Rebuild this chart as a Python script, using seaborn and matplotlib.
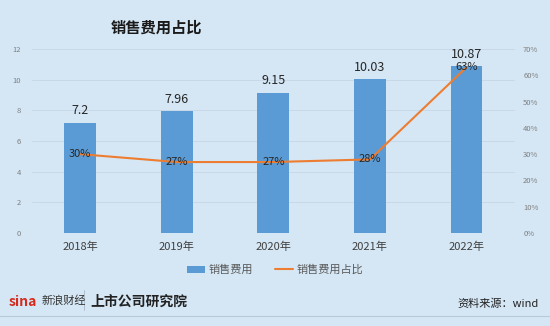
import matplotlib
matplotlib.use("Agg")
import matplotlib.pyplot as plt
import seaborn as sns
import pandas as pd
from matplotlib.patches import Patch
from matplotlib.lines import Line2D

years = ["2018年", "2019年", "2020年", "2021年", "2022年"]
sales_expense = [7.2, 7.96, 9.15, 10.03, 10.87]
ratio = [0.30, 0.27, 0.27, 0.28, 0.63]
ratio_labels = ["30%", "27%", "27%", "28%", "63%"]
left_ticks = [0, 2, 4, 6, 8, 10, 12]
right_ticks = [0, 0.1, 0.2, 0.3, 0.4, 0.5, 0.6, 0.7]

sns.set_theme(style="white")
plt.rcParams['font.family'] = ['Noto Sans CJK SC', 'DejaVu Sans']

BG = "#d5e7f5"
BAR = "#5b9bd5"
LINE = "#ed7d31"

df = pd.DataFrame({"year": years, "sales": sales_expense, "ratio": ratio})

fig = plt.figure(figsize=(5.5, 3.26), dpi=100, facecolor=BG)
ax = fig.add_axes([0.058, 0.285, 0.878, 0.565])
ax.set_facecolor(BG)

sns.barplot(data=df, x="year", y="sales", color=BAR, width=0.33, saturation=1,
            linewidth=0, edgecolor="none", ax=ax)
ax.set_ylim(0, 12)
ax.set_yticks(left_ticks)
ax.set_xlim(-0.5, 4.5)
ax.yaxis.grid(True, color="#c8d8e6", linewidth=0.7)
ax.set_axisbelow(True)
for s in ax.spines.values():
    s.set_visible(False)
ax.set_xlabel("")
ax.set_ylabel("")
ax.tick_params(axis="y", labelsize=5.5, colors="#7f7f7f", length=0, pad=8)
ax.tick_params(axis="x", labelsize=8, colors="#404040", length=0, pad=6)

for i, v in enumerate(sales_expense):
    ax.text(i, v + 0.35, f"{v:g}", ha="center", va="bottom", fontsize=9, color="#262626")

ax2 = ax.twinx()
sns.lineplot(x=list(range(len(years))), y=ratio, color=LINE, linewidth=1.5, ax=ax2)
ax2.set_ylim(0, 0.7)
ax2.set_yticks(right_ticks)
ax2.set_yticklabels([f"{int(round(t*100))}%" for t in right_ticks])
ax2.tick_params(axis="y", labelsize=5.5, colors="#7f7f7f", length=0, pad=6)
for s in ax2.spines.values():
    s.set_visible(False)
ax2.set_ylabel("")
for i, (v, lab) in enumerate(zip(ratio, ratio_labels)):
    ax2.text(i, v, lab, ha="center", va="center", fontsize=8, color="#262626")

fig.text(0.285, 0.915, "销售费用占比", fontsize=11, fontweight="bold",
         ha="center", va="center", color="#1a1a1a")

handles = [Patch(facecolor=BAR, edgecolor="none"),
           Line2D([0], [0], color=LINE, linewidth=1.5)]
fig.legend(handles, ["销售费用", "销售费用占比"], loc="center",
           bbox_to_anchor=(0.5, 0.172), ncol=2, frameon=False, fontsize=8,
           labelcolor="#595959", handlelength=1.6, handleheight=0.6,
           columnspacing=2.0, handletextpad=0.3)

# footer
fig.text(0.015, 0.075, "sina", fontsize=10, color="#d52b1e", fontweight="bold",
         style="italic", ha="left", va="center")
fig.text(0.075, 0.078, "新浪财经", fontsize=8, color="#333333", style="italic",
         ha="left", va="center")
fig.add_artist(Line2D([0.152, 0.152], [0.05, 0.11], color="#aab8c4", linewidth=0.6))
fig.text(0.165, 0.075, "上市公司研究院", fontsize=10, color="#222222", fontweight="bold",
         ha="left", va="center")
fig.text(0.98, 0.068, "资料来源：wind", fontsize=8, color="#222222", ha="right", va="center")
fig.add_artist(Line2D([0, 1], [0.03, 0.03], color="#b8c9d8", linewidth=0.8))

fig.savefig("out.png", dpi=100, facecolor=BG)
